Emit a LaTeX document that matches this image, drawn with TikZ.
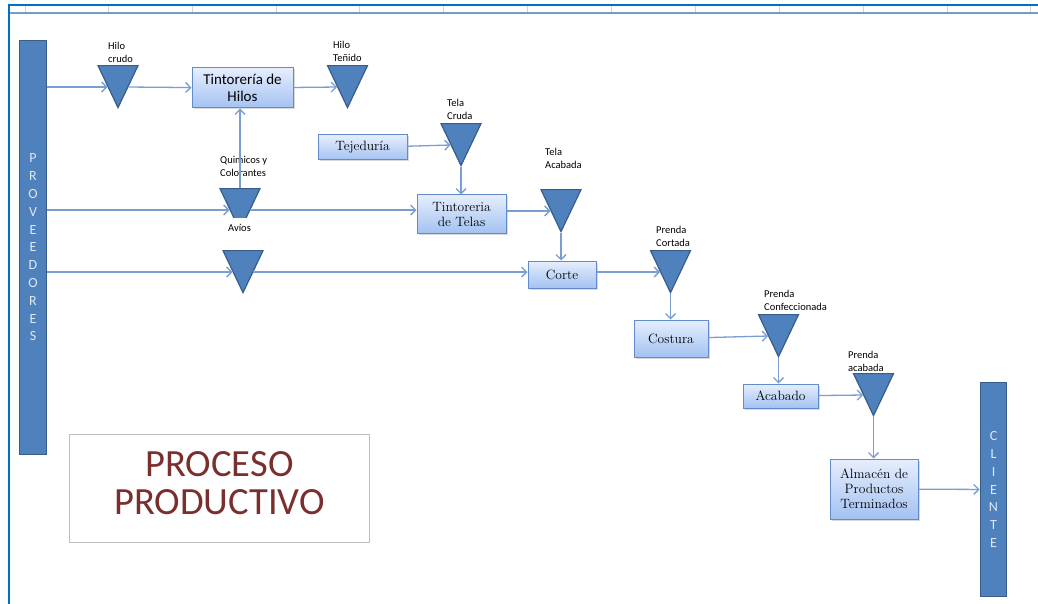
\documentclass[tikz,border=0pt]{standalone}
\usepackage{fontspec}
\newfontfamily\calib{Carlito}
\usepackage{tikz}
\usepackage{xcolor}
\definecolor{barblue}{RGB}{79, 129, 189}
\definecolor{bardark}{RGB}{56, 93, 138}
\definecolor{barletter}{RGB}{222, 232, 245}
\definecolor{linkblue}{RGB}{120, 158, 210}
\definecolor{boxtop}{RGB}{230, 238, 253}
\definecolor{boxbot}{RGB}{163, 194, 242}
\definecolor{boxedge}{RGB}{98, 139, 201}
\definecolor{titlered}{RGB}{122, 46, 46}
\definecolor{framegray}{RGB}{191, 191, 191}
\definecolor{frameblue}{RGB}{0, 112, 192}
\definecolor{headline}{RGB}{120, 155, 205}
\usetikzlibrary{shapes.geometric,arrows.meta,shadows,calc,positioning}

\begin{document}
\begin{tikzpicture}[x=1pt, y=-1pt,
    procbox/.style={draw=boxedge, line width=1pt, top color=boxtop, bottom color=boxbot, inner sep=0pt, align=center, font=\fontsize{13.5}{15}\selectfont, drop shadow={shadow xshift=1.5pt, shadow yshift=-1.5pt, opacity=0.3}},
    stock/.style={isosceles triangle, isosceles triangle apex angle=52, isosceles triangle stretches, shape border rotate=270, minimum width=40pt, minimum height=42pt, inner sep=0pt, fill=barblue, draw=bardark, line width=1.2pt, anchor=apex},
    stocklabel/.style={anchor=south west, inner sep=0pt, align=left, font=\calib\fontsize{10.5}{13}\selectfont},
    actor/.style={fill=barblue, draw=bardark, line width=1.8pt, inner sep=0pt, align=center, text=barletter, font=\calib\fontsize{14}{17.8}\selectfont},
    link/.style={draw=linkblue, line width=1.3pt, -{Straight Barb[length=5pt,width=10pt]}}]
    \useasboundingbox (0, 0) rectangle (1038, 604);

    % Sheet frame
    \draw[headline, line width=1.5pt] (9, 13) -- (1038, 13);
    \foreach \hx in {25, 108, 192, 276, 359, 443, 527, 611, 695, 779, 863, 947, 1030}
        \draw[framegray!70, line width=1pt] (\hx, 6) -- (\hx, 12);
    \draw[frameblue, line width=2pt] (9, 604) -- (9, 5) -- (1038, 5);

    % Suppliers and customer
    \node[actor, minimum width=27pt, minimum height=414pt] (prov) at (33, 247.5) {P\\R\\O\\V\\E\\E\\D\\O\\R\\E\\S};
    \node[actor, minimum width=26pt, minimum height=214pt] (clie) at (993.5, 489.5) {C\\L\\I\\E\\N\\T\\E};

    % Process steps
    \node[procbox, font=\calib\fontsize{15}{17}\selectfont, minimum width=101pt, minimum height=40pt] (thil) at (242.5, 88) {Tintorería de\\Hilos};
    \node[procbox, minimum width=89pt, minimum height=25pt] (tej) at (362.5, 147.5) {Tejeduría};
    \node[procbox, minimum width=89pt, minimum height=38pt] (ttel) at (461.5, 214) {Tintoreria\\de Telas};
    \node[procbox, minimum width=68pt, minimum height=27pt] (corte) at (562, 274.5) {Corte};
    \node[procbox, minimum width=74pt, minimum height=37pt] (cost) at (671, 338.5) {Costura};
    \node[procbox, minimum width=75pt, minimum height=24pt] (acab) at (780.5, 396) {Acabado};
    \node[procbox, minimum width=88pt, minimum height=60pt] (alm) at (874, 489) {Almacén de\\Productos\\Terminados};

    % Stocks
    \node[stock] (hcru) at (118, 109) {};
    \node[stock] (hten) at (347.5, 109) {};
    \node[stock] (tcru) at (461, 167) {};
    \node[stock] (quim) at (240, 232) {};
    \node[stock] (avio) at (243, 294) {};
    \node[stock] (taca) at (561, 233) {};
    \node[stock] (pcor) at (670.5, 294) {};
    \node[stock] (pcon) at (778.5, 358) {};
    \node[stock] (paca) at (873.5, 417) {};

    % Labels
    \node[stocklabel] (lhcru) at (108, 63) {Hilo\\crudo};
    \node[stocklabel] (lhten) at (333, 62) {Hilo\\Teñido};
    \node[stocklabel] (ltcru) at (447, 120) {Tela\\Cruda};
    \node[stocklabel] (lquim) at (220, 177) {Quimicos y\\Colorantes};
    \node[stocklabel, fill=white, inner xsep=2pt, inner ysep=7pt] (lavio) at (226, 239) {Avíos};
    \node[stocklabel] (ltaca) at (545, 169) {Tela\\Acabada};
    \node[stocklabel] (lpcor) at (656, 247) {Prenda\\Cortada};
    \node[stocklabel] (lpcon) at (764, 311) {Prenda\\Confeccionada};
    \node[stocklabel] (lpaca) at (848, 372) {Prenda\\acabada};

    % Flows
    \coordinate (qtop) at ($(quim.left corner)!0.5!(quim.right corner)$);
    \draw[link] (prov.east |- hcru.right side) -- (hcru.right side);
    \draw[link] (hcru.left side) -- (thil);
    \draw[link] (thil) -- (hten.right side);
    \draw[link] (qtop) -- (qtop |- thil.south);
    \draw[link] (prov.east |- quim.right side) -- (quim.right side);
    \draw[link] (quim.left side) -- (quim.left side -| ttel.west);
    \draw[link] (tej) -- (tcru.right side);
    \draw[link] (tcru.apex) -- (tcru.apex |- ttel.north);
    \draw[link] (ttel.east |- taca.right side) -- (taca.right side);
    \draw[link] (taca.apex) -- (taca.apex |- corte.north);
    \draw[link] (prov.east |- avio.right side) -- (avio.right side);
    \draw[link] (avio.left side) -- (avio.left side -| corte.west);
    \draw[link] (corte.east |- pcor.right side) -- (pcor.right side);
    \draw[link] (pcor.apex) -- (pcor.apex |- cost.north);
    \draw[link] (cost) -- (pcon.right side);
    \draw[link] (pcon.apex) -- (pcon.apex |- acab.north);
    \draw[link] (acab) -- (paca.right side);
    \draw[link] (paca.apex) -- (paca.apex |- alm.north);
    \draw[link] (alm) -- (clie);

    % Title
    \node[draw=framegray, line width=1.2pt, minimum width=300pt, minimum height=108pt] (titlebox) at (219.5, 488.5) {};
    \node[text=titlered, font=\calib\fontsize{38.5}{38}\selectfont, align=center, inner sep=0pt] (title) at ([yshift=5pt]titlebox.center) {PROCESO\\PRODUCTIVO};
\end{tikzpicture}
\end{document}
